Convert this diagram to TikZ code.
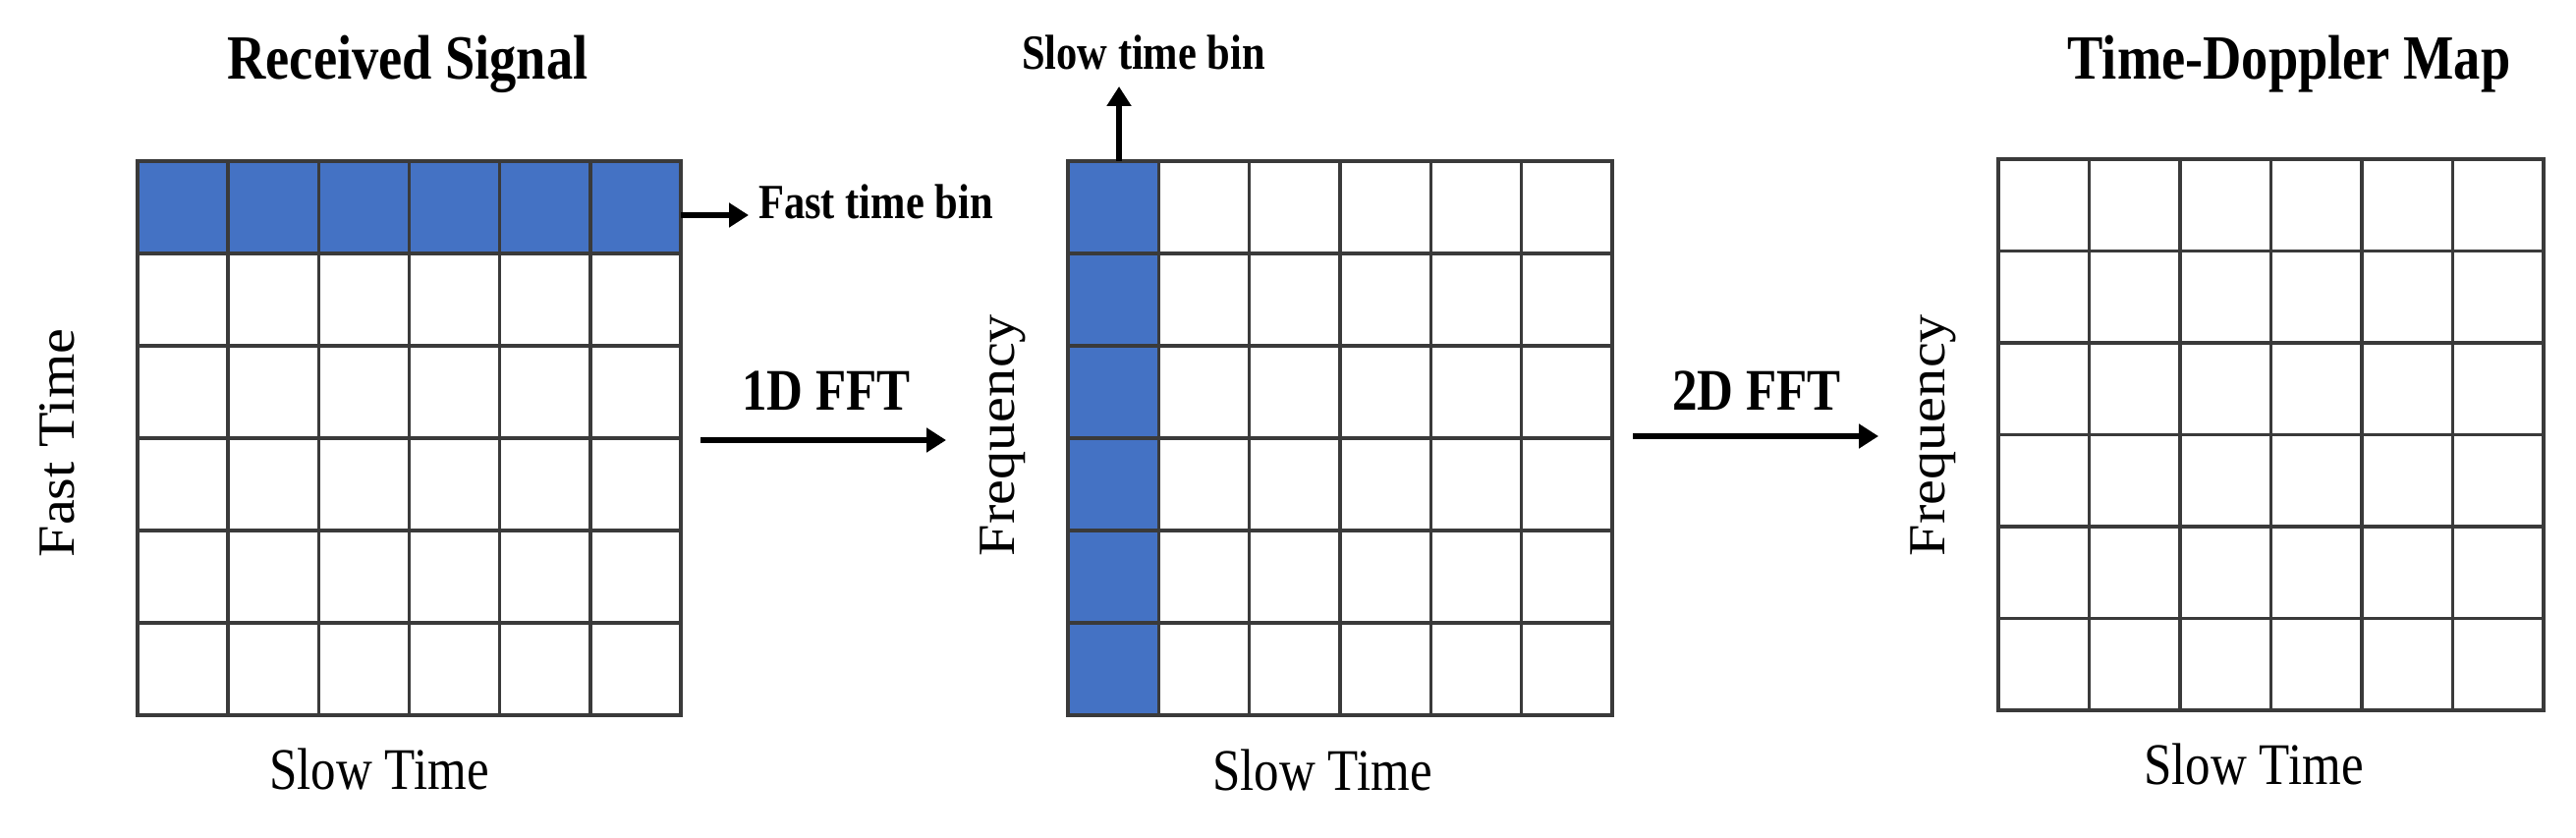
\documentclass[tikz,border=0pt]{standalone}
\usepackage{fontspec}
\setmainfont{Liberation Serif}
\newfontfamily\hfont[FakeStretch=0.85]{Liberation Serif}
\newfontfamily\vfont[FakeStretch=1.1]{Liberation Serif}
\usetikzlibrary{arrows.meta}
\definecolor{cellblue}{RGB}{68,114,196}
\definecolor{gridgray}{RGB}{58,58,58}
\begin{document}
\begin{tikzpicture}[x=1pt,y=1pt,
  gridline/.style={draw=gridgray, line width=3.5pt, line cap=rect},
  bigarrow/.style={line width=6pt, -{Triangle[length=20pt,width=24pt]}},
  title/.style={font=\hfont\bfseries\fontsize{64}{70}\selectfont, anchor=base, inner sep=0pt},
  fftlabel/.style={font=\hfont\bfseries\fontsize{60}{66}\selectfont, anchor=base, inner sep=0pt},
  binlabel/.style={font=\hfont\bfseries\fontsize{50}{56}\selectfont, anchor=base, inner sep=0pt},
  axlabel/.style={font=\hfont\fontsize{60}{66}\selectfont, anchor=base, inner sep=0pt},
  vlabel/.style={font=\vfont\fontsize{53}{60}\selectfont, rotate=90, anchor=base, inner sep=0pt},
  binbox/.style={fill=cellblue, inner sep=0pt, anchor=north west, draw=none}
]
\path[use as bounding box, fill=white] (0,0) rectangle (2622,852);

% highlighted bins
\node[binbox, minimum width=553pt, minimum height=94pt] (fastbin) at (140,688) {};
\node[binbox, minimum width=92.33pt, minimum height=564pt] (slowbin) at (1087,688) {};

% grids
\foreach \L/\R/\T/\B in {140/693/688/124, 1087/1641/688/124, 2034/2589/690/129}{
  \foreach \i in {0,...,6}{
    \draw[gridline] ({\L+\i*(\R-\L)/6},\B) -- ({\L+\i*(\R-\L)/6},\T);
    \draw[gridline] (\L,{\B+\i*(\T-\B)/6}) -- (\R,{\B+\i*(\T-\B)/6});
  }
}

% titles and labels
\node[title] (t1) at (415,771) {Received Signal};
\node[title] (t3) at (2330,771) {Time-Doppler Map};
\node[binlabel] (sbl) at (1164,781) {Slow time bin};
\node[binlabel, anchor=base west] (fbl) at (772,629) {Fast time bin};
\node[fftlabel] (f1) at (841,434) {1D FFT};
\node[fftlabel] (f2) at (1788,434) {2D FFT};
\node[axlabel] (s1) at (386,49) {Slow Time};
\node[axlabel] (s2) at (1346,48) {Slow Time};
\node[axlabel] (s3) at (2294,54) {Slow Time};
\node[vlabel] (ft) at (75,401) {Fast Time};
\node[vlabel] (fq2) at (1032,409) {Frequency};
\node[vlabel] (fq3) at (1979,409) {Frequency};

% arrows
\coordinate (fbtip) at (762,633);
\draw[bigarrow] (fastbin.east |- fbtip) -- (fbtip);
\coordinate (sbtip) at (1139,764);
\draw[bigarrow] (sbtip |- slowbin.north) -- (sbtip);
\coordinate (a1s) at (713,404);
\coordinate (a1e) at (963,404);
\draw[bigarrow] (a1s) -- (a1e);
\coordinate (a2s) at (1662,408);
\coordinate (a2e) at (1912,408);
\draw[bigarrow] (a2s) -- (a2e);
\end{tikzpicture}
\end{document}
